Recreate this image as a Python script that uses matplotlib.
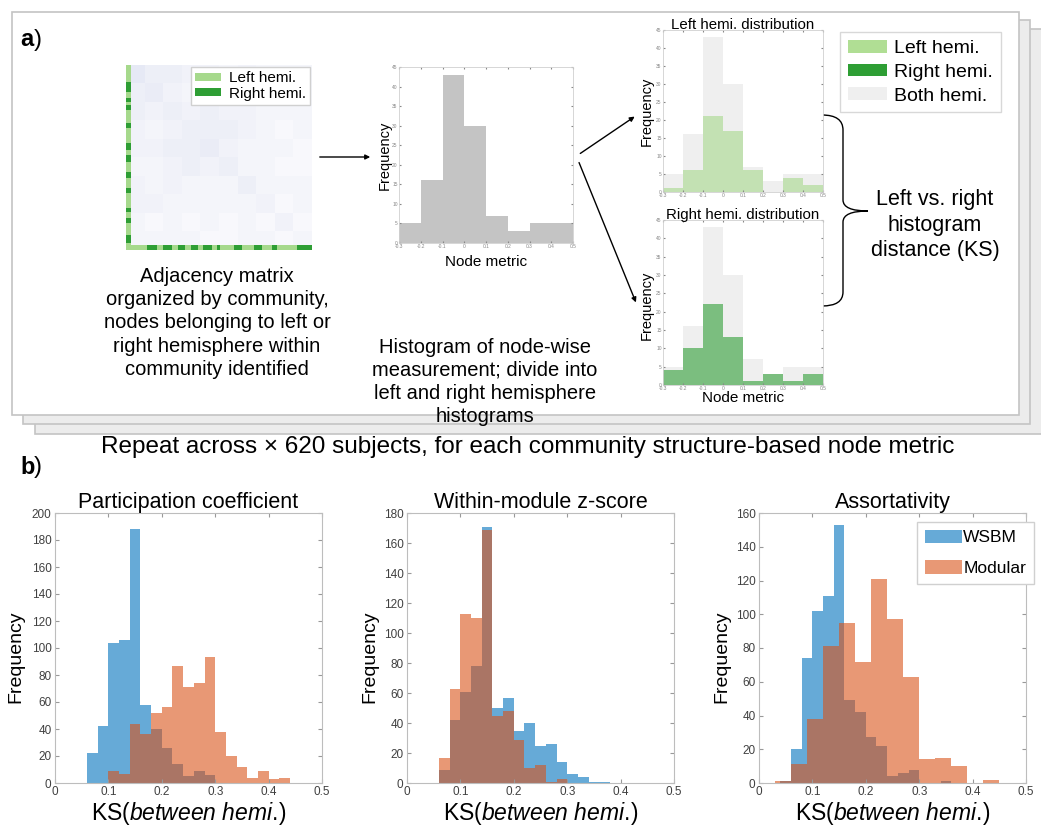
import numpy as np
import matplotlib.pyplot as plt
from matplotlib.patches import Rectangle, Patch, PathPatch
from matplotlib.path import Path
from matplotlib.colors import LinearSegmentedColormap

plt.rcParams['font.family'] = ['Liberation Sans', 'DejaVu Sans']
plt.rcParams['mathtext.fontset'] = 'custom'
plt.rcParams['mathtext.rm'] = 'Liberation Sans'
plt.rcParams['mathtext.it'] = 'Liberation Sans:italic'

# ---- panel a data ----
node_edges = [-0.3, -0.2, -0.1, 0.0, 0.1, 0.2, 0.3, 0.4, 0.5]
both_counts = [5, 16, 43, 30, 7, 3, 5, 5]
left_counts = [1, 6, 21, 17, 6, 0, 4, 2]
right_counts = [4, 10, 22, 13, 1, 3, 1, 3]

# rough density of the adjacency matrix, read block by block (10 x 10)
adj_density = [
    [.7, .5, .5, .4, .4, .3, .4, .3, .3, .3],
    [.5, .6, .4, .3, .4, .3, .3, .4, .2, .3],
    [.5, .4, .5, .4, .5, .4, .4, .3, .3, .3],
    [.4, .3, .4, .5, .5, .5, .4, .3, .2, .3],
    [.4, .4, .5, .5, .6, .4, .3, .3, .3, .2],
    [.3, .3, .4, .5, .4, .5, .3, .3, .2, .2],
    [.4, .3, .4, .3, .3, .3, .5, .3, .3, .3],
    [.4, .4, .3, .3, .3, .3, .3, .4, .2, .3],
    [.3, .2, .3, .2, .3, .2, .3, .2, .4, .2],
    [.3, .3, .3, .3, .2, .2, .3, .3, .2, .3],
]
# right-hemisphere node runs along the matrix edges (fraction of side)
left_edge_right = [(0.09, 0.144), (0.18, 0.198), (0.216, 0.243), (0.315, 0.342),
                   (0.423, 0.459), (0.486, 0.523), (0.577, 0.613), (0.667, 0.694),
                   (0.775, 0.793), (0.829, 0.856), (0.919, 0.964)]
bottom_edge_right = [(0.111, 0.165), (0.201, 0.246), (0.282, 0.318), (0.350, 0.389),
                     (0.416, 0.461), (0.488, 0.506), (0.578, 0.623), (0.686, 0.731),
                     (0.785, 0.812), (0.919, 1.0)]

# ---- panel b data (bin start, bin width, counts) ----
pc_wsbm = (0.06, 0.02, [22, 42, 104, 106, 188, 58, 40, 26, 14, 5, 9, 6])
pc_mod = (0.10, 0.02, [9, 7, 44, 36, 52, 56, 87, 71, 74, 93, 38, 20, 12, 4, 9, 3, 4])
wz_wsbm = (0.06, 0.02, [9, 42, 61, 78, 171, 50, 57, 35, 40, 25, 26, 14, 6, 4, 1, 1])
wz_mod = (0.06, 0.02, [17, 63, 113, 110, 169, 45, 48, 29, 10, 12, 1, 3])
as_wsbm = (0.04, 0.02, [1, 20, 74, 102, 111, 153, 49, 42, 27, 22, 4, 6, 8, 0, 0, 1])
as_mod = (0.03, 0.03, [1, 11, 38, 81, 95, 72, 121, 97, 63, 14, 15, 10, 0, 2])

ks_ticks = [0, 0.1, 0.2, 0.3, 0.4, 0.5]
ks_labels = ['0', '0.1', '0.2', '0.3', '0.4', '0.5']

blue = '#0072bd'
orange = '#d95319'
light_green = '#a6d98c'
dark_green = '#2e9e34'
both_gray = '#efefef'

W, H = 1041, 826
fig = plt.figure(figsize=(W / 100, H / 100), dpi=100)


def add_ax(l, t, r, b):
    return fig.add_axes([l / W, 1 - b / H, (r - l) / W, (b - t) / H])


bg = fig.add_axes([0, 0, 1, 1])
bg.set_xlim(0, W)
bg.set_ylim(H, 0)
bg.axis('off')

# stacked frames
for l, t, r, b, fc in [(35, 29, 1045, 434, '#ececec'),
                       (23, 20, 1030, 424, '#ececec'),
                       (12, 12, 1019, 415, 'white')]:
    bg.add_patch(Rectangle((l, t), r - l, b - t, fc=fc, ec='#c4c4c4', lw=1.2))

bg.text(20, 40, 'a', fontsize=17, weight='bold', va='center')
bg.text(34, 40, ')', fontsize=17, va='center')
bg.text(20, 467, 'b', fontsize=17, weight='bold', va='center')
bg.text(34, 467, ')', fontsize=17, va='center')

# adjacency matrix
axm = add_ax(126, 65, 312, 250)
cmap = LinearSegmentedColormap.from_list('pale', ['white', '#b9c1e3'])
axm.imshow(adj_density, cmap=cmap, vmin=0, vmax=2.0, extent=[0, 1, 0, 1],
           interpolation='nearest', aspect='auto')
sw = 0.025
axm.add_patch(Rectangle((0, 0), sw, 1, fc=light_green, ec='none'))
for s, e in left_edge_right:
    axm.add_patch(Rectangle((0, 1 - e), sw, e - s, fc=dark_green, ec='none'))
axm.add_patch(Rectangle((0, 0), 1, sw, fc=light_green, ec='none'))
for s, e in bottom_edge_right:
    axm.add_patch(Rectangle((s, 0), e - s, sw, fc=dark_green, ec='none'))
axm.set_xlim(0, 1)
axm.set_ylim(0, 1)
axm.axis('off')
axm.legend(handles=[Patch(fc=light_green), Patch(fc=dark_green)],
           labels=['Left hemi.', 'Right hemi.'], loc='upper right', fontsize=11,
           handlelength=1.7, handleheight=0.45, labelspacing=0.1,
           borderpad=0.3, handletextpad=0.5, borderaxespad=0.1,
           fancybox=False, edgecolor='#d0d0d0', framealpha=1)

bg.text(217, 323, 'Adjacency matrix\norganized by community,\nnodes belonging to left or\n'
        'right hemisphere within\ncommunity identified',
        ha='center', va='center', fontsize=14.5, linespacing=1.29)

bg.annotate('', xy=(373, 157), xytext=(317, 157),
            arrowprops=dict(arrowstyle='-|>', lw=1, color='black', mutation_scale=7))
bg.annotate('', xy=(637, 115), xytext=(578, 155),
            arrowprops=dict(arrowstyle='-|>', lw=1, color='black', mutation_scale=7))
bg.annotate('', xy=(637, 305), xytext=(578, 160),
            arrowprops=dict(arrowstyle='-|>', lw=1, color='black', mutation_scale=7))


def small_hist(ax):
    ax.set_xlim(-0.3, 0.5)
    ax.set_ylim(0, 45)
    ax.set_xticks(node_edges, ['-0.3', '-0.2', '-0.1', '0', '0.1', '0.2', '0.3', '0.4', '0.5'])
    ax.set_yticks(range(0, 50, 5))
    ax.tick_params(labelsize=3.5, length=1.5, pad=1, direction='in', colors='#888888',
                   top=True, right=True)
    for sp in ax.spines.values():
        sp.set_color('#d0d0d0')
        sp.set_linewidth(0.6)


edges = np.array(node_edges)
axh = add_ax(399, 67, 573, 243)
axh.bar(edges[:-1], both_counts, width=np.diff(edges), align='edge', color='#c4c4c4', lw=0)
small_hist(axh)
bg.text(385, 155, 'Frequency', rotation=90, ha='center', va='center', fontsize=10.5)
bg.text(486, 262, 'Node metric', ha='center', va='center', fontsize=11)
bg.text(485, 382, 'Histogram of node-wise\nmeasurement; divide into\nleft and right hemisphere\nhistograms',
        ha='center', va='center', fontsize=14.5, linespacing=1.27)

axl = add_ax(663, 30, 823, 192)
axl.bar(edges[:-1], both_counts, width=np.diff(edges), align='edge', color=both_gray, lw=0)
axl.bar(edges[:-1], left_counts, width=np.diff(edges), align='edge', color=light_green,
        alpha=0.6, lw=0)
small_hist(axl)
axl.set_title('Left hemi. distribution', fontsize=10.8, pad=1)
bg.text(647, 111, 'Frequency', rotation=90, ha='center', va='center', fontsize=10.5)

axr = add_ax(663, 220, 823, 385)
axr.bar(edges[:-1], both_counts, width=np.diff(edges), align='edge', color=both_gray, lw=0)
axr.bar(edges[:-1], right_counts, width=np.diff(edges), align='edge', color=dark_green,
        alpha=0.6, lw=0)
small_hist(axr)
axr.set_title('Right hemi. distribution', fontsize=10.8, pad=1)
bg.text(647, 305, 'Frequency', rotation=90, ha='center', va='center', fontsize=10.5)
bg.text(743, 398, 'Node metric', ha='center', va='center', fontsize=11)

fig.legend(handles=[Patch(fc='#b0de94'), Patch(fc=dark_green), Patch(fc=both_gray)],
           labels=['Left hemi.', 'Right hemi.', 'Both hemi.'], loc='upper left',
           bbox_to_anchor=(840 / W, 1 - 32 / H), fontsize=14, handlelength=2.0,
           handleheight=0.65, labelspacing=0.33, borderpad=0.4, handletextpad=0.4,
           borderaxespad=0, fancybox=False, edgecolor='#d8d8d8', framealpha=1)

# curly brace
brace = Path([(822, 115), (843, 115), (843, 130),
              (843, 200),
              (843, 211), (868, 211),
              (843, 211), (843, 222),
              (843, 292),
              (843, 306), (822, 306)],
             [Path.MOVETO, Path.CURVE3, Path.CURVE3,
              Path.LINETO,
              Path.CURVE3, Path.CURVE3,
              Path.CURVE3, Path.CURVE3,
              Path.LINETO,
              Path.CURVE3, Path.CURVE3])
bg.add_patch(PathPatch(brace, fc='none', ec='black', lw=1))
bg.text(935, 225, 'Left vs. right\nhistogram\ndistance (KS)', ha='center', va='center',
        fontsize=15.5, linespacing=1.3)

bg.text(528, 447, 'Repeat across \u00d7 620 subjects, for each community structure-based node metric',
        ha='center', va='center', fontsize=17.5)


# ---- panel b ----
def ks_panel(l, r, title, wsbm, mod, ymax, ylab_x):
    ax = add_ax(l, 513, r, 783)
    for (start, width, counts), col in [(wsbm, blue), (mod, orange)]:
        e = start + width * np.arange(len(counts) + 1)
        ax.bar(e[:-1], counts, width=width, align='edge', color=col, alpha=0.6, lw=0)
    ax.set_xlim(0, 0.5)
    ax.set_ylim(0, ymax)
    ax.set_xticks(ks_ticks, ks_labels)
    ax.set_yticks(range(0, ymax + 1, 20))
    ax.tick_params(labelsize=8.5, length=3, direction='in', colors='#999999',
                   labelcolor='#404040', top=True, right=True, pad=2.5)
    for sp in ax.spines.values():
        sp.set_color('#bdbdbd')
        sp.set_linewidth(0.8)
    ax.set_title(title, fontsize=15.5, pad=3.5)
    ax.set_ylabel('Frequency', fontsize=14, va='center')
    ax.yaxis.set_label_coords((ylab_x - l) / (r - l), 0.467)
    ax.set_xlabel(r'KS($\mathit{between\ hemi.}\!$)', fontsize=16.5, va='top')
    ax.xaxis.set_label_coords(0.5, -(800 - 783) / 270)
    return ax


ks_panel(55, 322, 'Participation coefficient', pc_wsbm, pc_mod, 200, 16)
ks_panel(407, 674, 'Within-module z-score', wz_wsbm, wz_mod, 180, 370)
ax3 = ks_panel(759, 1026, 'Assortativity', as_wsbm, as_mod, 160, 722)
ax3.legend(handles=[Patch(fc=blue, alpha=0.6, lw=0), Patch(fc=orange, alpha=0.6, lw=0)],
           labels=['WSBM', 'Modular'], loc='upper right',
           bbox_to_anchor=(1034 / W, 1 - 522 / H), bbox_transform=fig.transFigure,
           fontsize=12.5, handlelength=2.1, handleheight=0.8, labelspacing=0.85,
           borderpad=0.45, handletextpad=0.1, borderaxespad=0,
           fancybox=False, edgecolor='#d0d0d0', framealpha=1)

fig.savefig('out.png', dpi=100)
